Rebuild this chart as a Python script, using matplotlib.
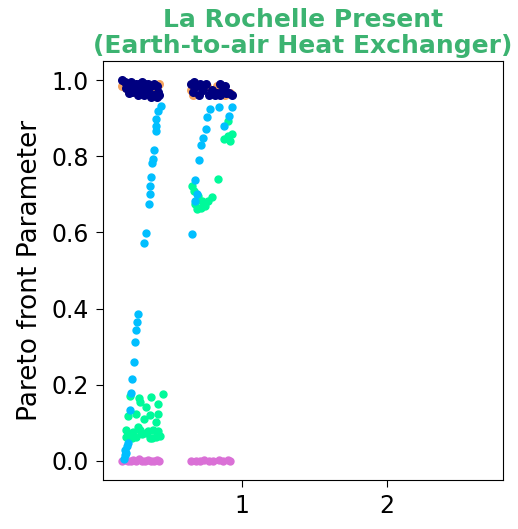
import matplotlib
matplotlib.use('Agg')
import matplotlib.pyplot as plt

# ── data ──────────────────────────────────────────────────────────────────────

orchid_x = [0.17, 0.19, 0.21, 0.23, 0.25, 0.27, 0.29, 0.31, 0.33, 0.35, 0.37,
            0.39, 0.41, 0.43, 0.65, 0.68, 0.71, 0.74, 0.77, 0.80, 0.84, 0.87,
            0.90, 0.92]
orchid_y = [0.001, 0.002, 0.001, 0.000, 0.002, 0.001, 0.004, 0.001, 0.000,
            0.002, 0.001, 0.000, 0.002, 0.001, 0.001, 0.000, 0.001, 0.002,
            0.000, 0.001, 0.003, 0.000, 0.002, 0.001]

orange_x = [0.17, 0.20, 0.23, 0.27, 0.31, 0.35, 0.39, 0.43, 0.41, 0.25,
            0.65, 0.68, 0.72, 0.76, 0.80, 0.84, 0.88, 0.92, 0.66, 0.83]
orange_y = [0.985, 0.98, 0.99, 0.985, 0.98, 0.985, 0.98, 0.99, 0.965, 0.97,
            0.975, 0.99, 0.98, 0.985, 0.97, 0.975, 0.96, 0.965, 0.96, 0.985]

navy_x = [0.17, 0.19, 0.21, 0.23, 0.25, 0.27, 0.29, 0.31, 0.33, 0.35, 0.37,
          0.39, 0.41, 0.42, 0.40, 0.38, 0.36, 0.34, 0.32, 0.30, 0.28, 0.26,
          0.24, 0.22, 0.20, 0.43, 0.37, 0.41,
          0.65, 0.67, 0.69, 0.71, 0.73, 0.75, 0.77, 0.79, 0.81, 0.83, 0.85,
          0.87, 0.89, 0.91, 0.93, 0.88, 0.66, 0.70, 0.85]
navy_y = [1.0, 0.995, 0.99, 0.995, 0.985, 0.99, 0.99, 0.995, 0.99, 0.99,
          0.985, 0.99, 0.985, 0.97, 0.96, 0.96, 0.965, 0.975, 0.96, 0.975,
          0.96, 0.975, 0.97, 0.965, 0.98, 0.96, 0.955, 0.955,
          0.99, 0.995, 0.985, 0.99, 0.975, 0.99, 0.96, 0.975, 0.96, 0.965,
          0.96, 0.975, 0.965, 0.965, 0.96, 0.985, 0.97, 0.96, 0.99]

cyan_x = [0.185, 0.19, 0.205, 0.192, 0.199, 0.212, 0.226, 0.233, 0.240,
          0.253, 0.260, 0.267, 0.274, 0.281, 0.322, 0.336, 0.356, 0.363,
          0.363, 0.370, 0.377, 0.384, 0.390, 0.404, 0.404, 0.404, 0.418,
          0.438,
          0.651, 0.678, 0.678, 0.705, 0.719, 0.733, 0.753, 0.760, 0.781,
          0.842, 0.877, 0.911, 0.932, 0.690]
cyan_y = [0.005, 0.03, 0.04, 0.016, 0.021, 0.047, 0.134, 0.178, 0.215,
          0.259, 0.312, 0.343, 0.364, 0.387, 0.573, 0.599, 0.675, 0.702,
          0.723, 0.746, 0.783, 0.793, 0.817, 0.866, 0.880, 0.898, 0.919,
          0.932,
          0.597, 0.683, 0.738, 0.791, 0.830, 0.848, 0.872, 0.903, 0.924,
          0.929, 0.880, 0.906, 0.929, 0.700]

green_x = [0.651, 0.671, 0.699, 0.678, 0.692, 0.719, 0.747, 0.767, 0.795,
           0.726, 0.836, 0.904, 0.877, 0.904, 0.932, 0.918,
           0.226, 0.288, 0.370, 0.452, 0.295, 0.336, 0.418, 0.212, 0.267,
           0.363, 0.418, 0.404, 0.199, 0.247, 0.295, 0.336, 0.384, 0.432,
           0.199, 0.267, 0.363, 0.404, 0.22, 0.24, 0.31, 0.35, 0.42, 0.38,
           0.28, 0.32]
green_y = [0.723, 0.709, 0.696, 0.675, 0.662, 0.665, 0.670, 0.683, 0.694,
           0.683, 0.741, 0.893, 0.846, 0.853, 0.859, 0.840,
           0.170, 0.165, 0.168, 0.175, 0.154, 0.141, 0.149, 0.118, 0.123,
           0.120, 0.123, 0.102, 0.081, 0.076, 0.081, 0.073, 0.081, 0.065,
           0.063, 0.063, 0.060, 0.063, 0.07, 0.06, 0.07, 0.08, 0.08, 0.06,
           0.09, 0.11]

# ── plot ──────────────────────────────────────────────────────────────────────

fig = plt.figure(figsize=(5.18, 5.29), dpi=100)
ax = fig.add_axes([0.1988, 0.0926, 0.772, 0.792])

ax.scatter(orange_x, orange_y, s=30, color='sandybrown', zorder=2)
ax.scatter(orchid_x, orchid_y, s=25, color='orchid', zorder=3)
ax.scatter(green_x, green_y, s=25, color='mediumspringgreen', zorder=3)
ax.scatter(cyan_x, cyan_y, s=25, color='deepskyblue', zorder=3)
ax.scatter(navy_x, navy_y, s=30, color='navy', zorder=4)

ax.set_xlim(0.04, 2.8)
ax.set_ylim(-0.05, 1.05)
ax.set_xticks([1, 2])
ax.set_yticks([0.0, 0.2, 0.4, 0.6, 0.8, 1.0])
ax.tick_params(labelsize=17, length=5, pad=5)
ax.set_ylabel('Pareto front Parameter', fontsize=19, labelpad=6)
ax.set_title('La Rochelle Present\n(Earth-to-air Heat Exchanger)',
             fontsize=18, fontweight='bold', color='mediumseagreen',
             linespacing=1.1)

fig.savefig('out.png', dpi=100)
